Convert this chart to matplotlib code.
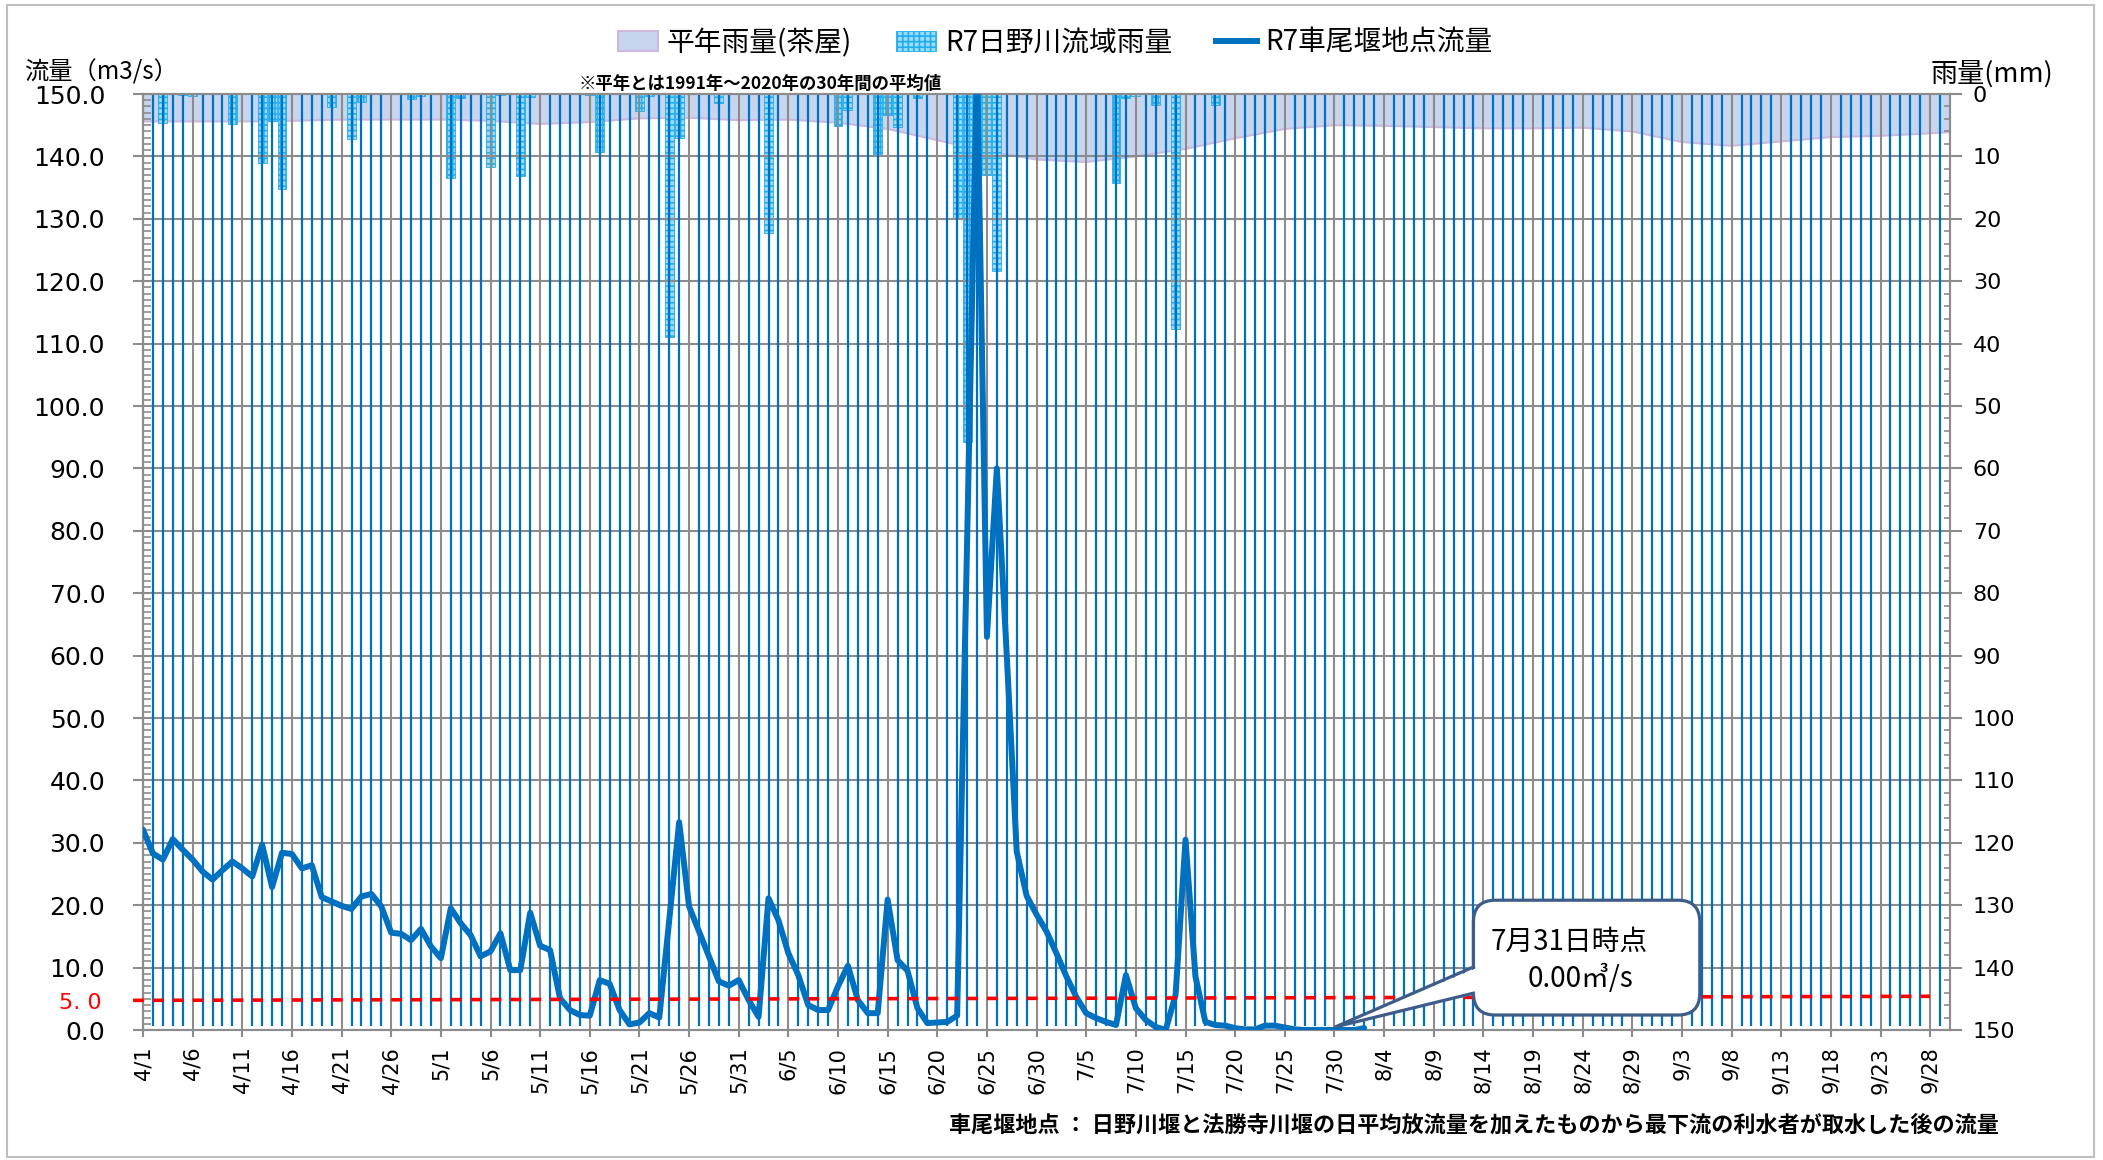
import matplotlib.pyplot as plt
import matplotlib.ticker as mticker
import numpy as np
import pandas as pd
from matplotlib.patches import Patch, FancyBboxPatch, Polygon, Rectangle
from matplotlib.lines import Line2D

plt.rcParams['font.family'] = ['DejaVu Sans', 'Noto Sans CJK JP']
plt.rcParams['hatch.linewidth'] = 1.2
JP = ['Noto Sans CJK JP', 'DejaVu Sans']

# days of the season, 4/1 - 9/30
dates = pd.date_range('2025-04-01', '2025-09-30')
day_labels = [f'{d.month}/{d.day}' for d in dates]

# R7 flow at 車尾堰 (m3/s), daily from 4/1
flow = [32.1, 28.3, 27.3, 30.6, 28.9, 27.3, 25.4, 24.1, 25.6, 27.0,
        25.9, 24.6, 29.7, 22.9, 28.4, 28.2, 25.9, 26.4, 21.3, 20.6,
        19.9, 19.4, 21.4, 21.8, 19.8, 15.6, 15.4, 14.4, 16.2, 13.4,
        11.5, 19.5, 17.1, 15.2, 11.8, 12.6, 15.5, 9.6, 9.6, 18.8,
        13.5, 12.8, 5.1, 3.2, 2.4, 2.3, 8.0, 7.4, 3.2, 0.9,
        1.2, 2.7, 2.0, 17.6, 33.3, 19.8, 15.8, 11.8, 7.8, 7.1,
        8.0, 4.8, 2.1, 21.1, 17.6, 12.3, 8.8, 4.0, 3.2, 3.2,
        7.0, 10.3, 4.8, 2.7, 2.7, 20.9, 11.2, 9.5, 3.5, 1.1,
        1.2, 1.3, 2.3, 78.0, 155.0, 63.0, 90.0, 60.0, 28.6, 21.5,
        18.5, 15.8, 12.3, 8.6, 5.3, 2.7, 1.9, 1.3, 0.8, 8.8,
        3.5, 1.6, 0.5, 0.0, 5.6, 30.5, 8.6, 1.3, 0.8, 0.7,
        0.3, 0.1, 0.1, 0.7, 0.7, 0.4, 0.1, 0.0, 0.0, 0.0,
        0.0, 0.0, 0.0, 0.3]

# R7 basin rainfall (mm), days with rain only
rain_dates = ['4/3', '4/5', '4/6', '4/10', '4/13', '4/14', '4/15', '4/20', '4/22', '4/23',
              '4/28', '4/29', '5/2', '5/3', '5/6', '5/7', '5/9', '5/10', '5/16', '5/17',
              '5/21', '5/22', '5/24', '5/25', '5/29', '6/3', '6/10', '6/11', '6/14', '6/15',
              '6/16', '6/18', '6/22', '6/23', '6/24', '6/25', '6/26', '7/8', '7/9', '7/10',
              '7/12', '7/14', '7/18']
rain_mm = [4.7, 0.2, 0.4, 4.8, 11.1, 4.4, 15.3, 2.1, 7.2, 1.3,
           0.8, 0.4, 13.5, 0.6, 11.7, 0.2, 13.2, 0.5, 0.2, 9.3,
           2.8, 0.4, 38.9, 7.0, 1.4, 22.3, 5.2, 2.5, 9.7, 3.3,
           5.3, 0.6, 19.8, 55.8, 13.0, 13.0, 28.4, 14.3, 0.6, 0.3,
           1.8, 37.7, 1.7]

# normal-year rainfall at 茶屋 (mm), every 5 days
normal_dates = day_labels[::5] + ['9/30']
normal_mm = [4.4, 4.4, 4.4, 4.3, 4.1, 4.1, 4.1, 4.3, 4.8, 4.5,
             3.9, 3.8, 4.2, 4.1, 4.6, 5.6, 7.4, 9.2, 10.5, 10.9,
             10.0, 8.8, 7.1, 5.6, 5.0, 5.1, 5.3, 5.5, 5.5, 5.4,
             6.0, 7.7, 8.3, 7.6, 6.9, 6.7, 6.3, 6.1]

pos = {lab: i for i, lab in enumerate(day_labels)}
x = np.arange(len(dates))
rain_x = [pos[d] for d in rain_dates]
normal_x = [pos[d] for d in normal_dates]

W, H = 2103, 1160
fig = plt.figure(figsize=(W / 100, H / 100), dpi=100)
ax = fig.add_axes([143 / W, 1 - 1030 / H, (1950 - 143) / W, (1030 - 94) / H])
ax2 = ax.twinx()
ax.set_zorder(ax2.get_zorder() + 1)
ax.patch.set_visible(False)

grey = '#8C8C8C'
blue = '#0070C0'

# rainfall on the inverted right axis
ax2.fill_between(normal_x, 0, normal_mm, color='#C7D5EF', lw=0, zorder=1)
ax2.plot(normal_x, normal_mm, color='#CDB9DD', lw=1.5, zorder=1)
ax2.bar(rain_x, rain_mm, width=0.9, color='#9ADBF8', edgecolor='#22AEEE',
        hatch='+++', lw=0.6, zorder=2)
ax2.set_ylim(150, 0)
ax2.set_yticks(np.arange(0, 151, 10))
ax2.set_yticklabels([str(v) for v in range(0, 151, 10)], fontsize=16)
ax2.yaxis.set_minor_locator(mticker.MultipleLocator(2))
ax2.tick_params(axis='y', which='major', direction='out', length=8.5, width=1.5,
                color=grey, pad=8)
ax2.tick_params(axis='y', which='minor', direction='in', length=4, width=1.2, color=grey)

# daily lines and grid
major_x = x[::5]
blue_x = [i for i in x[1:-1] if i % 5 != 0]
ax.vlines(major_x, 0, 150, colors=grey, lw=1.5, zorder=1)
for v in range(10, 150, 10):
    ax.axhline(v, color=grey, lw=1.5, zorder=1)
ax.vlines(blue_x, 0.6, 150, colors=blue, lw=1.6, zorder=2)

# flow
ax.plot(x[:len(flow)], flow, color=blue, lw=4.3, solid_joinstyle='round',
        solid_capstyle='round', zorder=4)

# 5.0 reference line
ax.plot([-1, 180], [4.75, 5.4], color='#FF0000', lw=2.6, dashes=(3.0, 2.5),
        clip_on=False, zorder=5)
ax.text(-0.0227, 4.3, '5. 0', color='#FF0000', fontsize=16, ha='right', va='center',
        transform=ax.get_yaxis_transform())

ax.set_xlim(0, 182)
ax.set_ylim(0, 150)
ax.set_xticks(major_x)
ax.set_xticklabels(day_labels[::5], rotation=90, fontsize=15)
ax.tick_params(axis='x', length=5, width=1.5, color=grey, pad=7)
ax.set_yticks(np.arange(0, 151, 10))
ax.set_yticklabels([f'{v:.1f}' for v in range(0, 151, 10)], fontsize=18)
ax.yaxis.set_minor_locator(mticker.MultipleLocator(1))
ax.tick_params(axis='y', which='major', direction='out', length=7.2, width=1.5,
               color=grey, pad=20)
ax.tick_params(axis='y', which='minor', direction='in', length=6, width=1.2, color=grey)
for a in (ax, ax2):
    for s in a.spines.values():
        s.set_color(grey)
        s.set_linewidth(1.5)

# callout
tip = (120.1, 0.5)
bx0, bx1, by0, by1 = 134.0, 156.8, 2.4, 20.8
edge = '#3E5C8A'
ax.add_patch(FancyBboxPatch((bx0, by0), bx1 - bx0, by1 - by0,
                            boxstyle='round,pad=0,rounding_size=2.2', mutation_aspect=1.595,
                            fc='white', ec=edge, lw=2.3, zorder=6))
ax.add_patch(Polygon([tip, (bx0 + 0.6, 10.1), (bx0 + 0.6, 5.9)], closed=True,
                     fc='white', ec='none', zorder=7))
ax.plot([bx0, tip[0], bx0], [10.1, tip[1], 5.9], color=edge, lw=2.3, zorder=8)
ax.text(135.7, 14.1, '7月31日時点', family=JP, fontsize=20, ha='left', va='center', zorder=9)
ax.text(139.5, 8.2, '0.00㎥/s', family=JP, fontsize=20, ha='left', va='center', zorder=9)

# titles and notes
fig.text(24 / W, 1 - 72 / H, '流量（m3/s）', family=JP, fontsize=17.5, ha='left', va='center')
fig.text(1931 / W, 1 - 74 / H, '雨量(mm)', family=JP, fontsize=19.5, ha='left', va='center')
fig.text(760 / W, 1 - 84 / H, '※平年とは1991年～2020年の30年間の平均値', family=JP,
         fontsize=12.5, fontweight='bold', ha='center', va='center')
fig.text(1999 / W, 1 - 1125 / H,
         '車尾堰地点 ： 日野川堰と法勝寺川堰の日平均放流量を加えたものから最下流の利水者が取水した後の流量',
         family=JP, fontsize=15.9, fontweight='bold', ha='right', va='center')

handles = [Patch(facecolor='#C7D5EF', edgecolor='#CDB9DD', lw=1.5),
           Patch(facecolor='#9ADBF8', edgecolor='#22AEEE', hatch='+++', lw=0.6),
           Line2D([], [], color=blue, lw=4.3)]
labels = ['平年雨量(茶屋)', 'R7日野川流域雨量', 'R7車尾堰地点流量']
fig.legend(handles, labels, loc='center', bbox_to_anchor=(0.5017, 0.963), ncol=3,
           frameon=False, prop={'family': JP, 'size': 20}, handlelength=1.45,
           handleheight=0.75, handletextpad=0.3, columnspacing=1.6)

fig.patches.append(Rectangle((7 / W, 1 - 1157 / H), (2094 - 7) / W, (1157 - 5) / H,
                             transform=fig.transFigure, fill=False, edgecolor='#BFBFBF', lw=1.5))

fig.savefig('out.png', dpi=100)
